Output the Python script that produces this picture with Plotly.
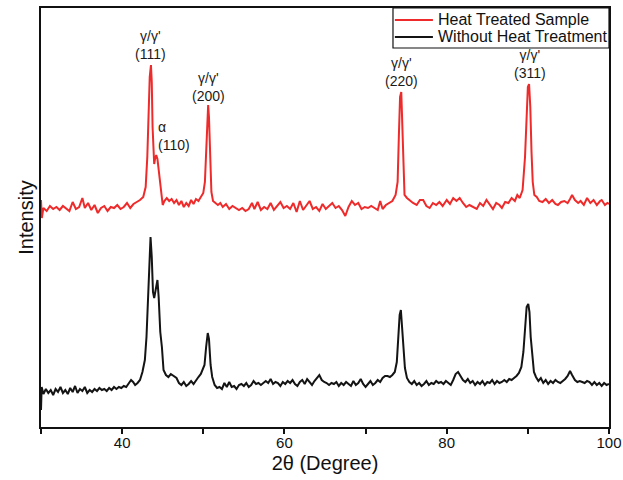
import plotly.graph_objects as go

# ---- Data (2theta in degrees, intensity in arbitrary units) ----
heat_x = [30.0, 30.1, 30.3, 30.7, 31.1, 31.5, 31.9, 32.3, 32.7, 33.1, 33.5, 33.9, 34.3, 34.7, 35.1, 35.4,
          35.8, 36.2, 36.6, 37.0, 37.4, 37.8, 38.2, 38.6, 39.0, 39.4, 39.8, 40.2, 40.6, 41.0, 41.4, 41.8,
          42.2, 42.6, 42.9, 43.1, 43.25, 43.4, 43.55, 43.65, 43.75, 43.85, 43.95, 44.05, 44.2, 44.35, 44.6,
          44.8, 45.0, 45.2, 45.5, 45.8, 46.1, 46.4, 46.7, 47.0, 47.3, 47.6, 47.9, 48.2, 48.5, 48.8, 49.1,
          49.4, 49.7, 50.0, 50.2, 50.35, 50.5, 50.6, 50.7, 50.85, 51.0, 51.2, 51.5, 51.8, 52.1, 52.4, 52.8,
          53.2, 53.6, 54.0, 54.4, 54.8, 55.2, 55.6, 56.0, 56.3, 56.7, 57.1, 57.5, 57.9, 58.3, 58.7, 59.1,
          59.5, 59.9, 60.3, 60.7, 61.1, 61.5, 61.9, 62.3, 62.7, 63.1, 63.5, 63.9, 64.3, 64.7, 65.1, 65.5,
          65.9, 66.3, 66.7, 67.1, 67.5, 67.9, 68.3, 68.7, 69.1, 69.5, 69.9, 70.3, 70.7, 71.1, 71.5, 71.8,
          72.1, 72.5, 72.9, 73.3, 73.7, 73.95, 74.1, 74.25, 74.4, 74.5, 74.65, 74.8, 75.1, 75.5, 75.85,
          76.3, 76.7, 77.1, 77.5, 77.9, 78.3, 78.7, 79.1, 79.5, 80.0, 80.4, 80.8, 81.2, 81.6, 82.0, 82.4,
          82.8, 83.3, 83.7, 84.1, 84.5, 84.9, 85.3, 85.7, 86.1, 86.5, 86.8, 87.2, 87.6, 88.0, 88.4, 88.7,
          89.0, 89.35, 89.65, 89.85, 90.0, 90.15, 90.3, 90.45, 90.6, 90.8, 91.1, 91.4, 91.8, 92.2, 92.6,
          93.0, 93.4, 93.7, 94.1, 94.5, 94.9, 95.2, 95.45, 95.8, 96.2, 96.5, 96.9, 97.3, 97.7, 98.1, 98.5,
          98.9, 99.1, 99.5, 99.8, 100.0]
heat_y = [227, 209, 219, 216, 221, 218, 220, 217, 221, 218, 216, 225, 218, 220, 229, 219,
          224, 217, 222, 214, 219, 221, 216, 220, 219, 222, 218, 220, 224, 219, 223, 225,
          227, 230, 240, 270, 320, 350, 362, 345, 300, 275, 263, 268, 272, 268, 250,
          232, 222, 226, 229, 226, 228, 224, 227, 222, 226, 220, 224, 221, 227, 223, 228,
          226, 230, 234, 245, 280, 315, 322, 310, 270, 235, 226, 224, 222, 224, 220, 223,
          218, 221, 219, 217, 219, 216, 218, 224, 218, 225, 217, 220, 218, 224, 217, 221,
          225, 219, 221, 218, 224, 215, 226, 217, 221, 226, 218, 220, 216, 223, 218, 221,
          224, 219, 221, 217, 211, 220, 226, 222, 224, 218, 220, 219, 221, 219, 217, 226,
          218, 222, 224, 226, 232, 245, 290, 330, 335, 310, 260, 232, 229, 226, 224,
          222, 227, 227, 221, 219, 224, 222, 225, 221, 227, 223, 229, 226, 229, 224, 220,
          222, 220, 218, 224, 221, 227, 223, 218, 224, 222, 219, 225, 224, 229, 226, 232,
          229, 237, 270, 320, 340, 343, 320, 275, 245, 232, 230, 226, 225, 228, 224,
          227, 223, 222, 225, 226, 224, 228, 232, 227, 224, 226, 222, 229, 224, 227, 222,
          226, 227, 222, 224, 223]

plain_x = [30.0, 30.08, 30.3, 30.6, 30.9, 31.2, 31.5, 31.8, 32.1, 32.4, 32.7, 33.0, 33.3, 33.6, 33.9,
           34.2, 34.5, 34.8, 35.1, 35.4, 35.7, 36.0, 36.3, 36.6, 36.9, 37.2, 37.5, 37.8, 38.1, 38.4,
           38.7, 39.0, 39.3, 39.6, 39.9, 40.2, 40.5, 40.8, 41.1, 41.35, 41.6, 41.9, 42.2, 42.5, 42.8,
           43.0, 43.2, 43.35, 43.5, 43.65, 43.8, 43.95, 44.15, 44.35, 44.5, 44.7, 44.9, 45.1, 45.4,
           45.7, 46.0, 46.3, 46.7, 47.0, 47.3, 47.6, 47.9, 48.2, 48.5, 48.8, 49.1, 49.4, 49.7, 49.95,
           50.15, 50.35, 50.55, 50.7, 50.9, 51.1, 51.4, 51.7, 52.0, 52.3, 52.6, 52.9, 53.2, 53.5, 53.8,
           54.1, 54.4, 54.7, 55.0, 55.3, 55.6, 55.9, 56.2, 56.5, 56.8, 57.1, 57.4, 57.7, 58.0, 58.3,
           58.6, 58.9, 59.2, 59.5, 59.8, 60.1, 60.4, 60.7, 61.0, 61.3, 61.6, 61.9, 62.2, 62.5, 62.8,
           63.1, 63.4, 63.7, 64.0, 64.3, 64.6, 64.9, 65.2, 65.5, 65.8, 66.1, 66.4, 66.7, 67.0, 67.3,
           67.6, 67.9, 68.2, 68.5, 68.8, 69.1, 69.4, 69.7, 70.0, 70.3, 70.6, 70.9, 71.2, 71.5, 71.8,
           72.1, 72.4, 72.7, 73.0, 73.3, 73.6, 73.85, 74.0, 74.2, 74.35, 74.5, 74.65, 74.85, 75.1, 75.4,
           75.7, 76.0, 76.3, 76.6, 76.9, 77.2, 77.5, 77.8, 78.1, 78.4, 78.7, 79.0, 79.3, 79.6, 79.9,
           80.2, 80.5, 80.8, 81.1, 81.4, 81.7, 82.0, 82.3, 82.6, 82.9, 83.2, 83.5, 83.8, 84.1, 84.4,
           84.7, 85.0, 85.3, 85.6, 85.9, 86.2, 86.5, 86.8, 87.1, 87.4, 87.7, 88.0, 88.3, 88.6, 88.9,
           89.2, 89.45, 89.65, 89.85, 90.05, 90.2, 90.35, 90.55, 90.75, 91.0, 91.3, 91.6, 91.9, 92.2,
           92.5, 92.8, 93.1, 93.4, 93.7, 94.0, 94.3, 94.6, 94.9, 95.2, 95.45, 95.8, 96.1, 96.4, 96.7,
           97.0, 97.3, 97.6, 97.9, 98.2, 98.5, 98.8, 99.1, 99.4, 99.7, 100.0]
plain_y = [17, 40, 33, 38, 34, 37, 32, 38, 35, 40, 34, 37, 33, 39, 35,
           41, 34, 38, 36, 40, 34, 37, 35, 38, 36, 39, 37, 38, 36, 39,
           37, 40, 38, 40, 39, 41, 40, 43, 47, 45, 42, 44, 47, 55, 67,
           90, 127, 170, 190, 170, 135, 129, 140, 147, 130, 95, 80, 57, 52,
           50, 53, 51, 49, 44, 42, 45, 41, 43, 46, 43, 47, 50, 53, 58,
           62, 80, 94, 88, 62, 50, 42, 39, 40, 38, 44, 40, 45, 40, 41,
           38, 42, 43, 41, 44, 40, 42, 46, 43, 44, 42, 44, 46, 44, 48,
           43, 45, 44, 41, 45, 43, 46, 44, 47, 43, 41, 45, 47, 43, 48,
           45, 42, 46, 49, 52, 47, 45, 44, 42, 44, 43, 45, 41, 44, 42,
           45, 43, 41, 46, 42, 44, 48, 43, 40, 43, 46, 42, 44, 47, 45,
           49, 51, 51, 50, 52, 55, 65, 85, 112, 117, 100, 80, 59, 49, 45,
           43, 46, 42, 44, 41, 43, 46, 42, 44, 43, 46, 44, 45, 43, 46,
           44, 42, 47, 53, 55, 51, 47, 45, 48, 44, 46, 42, 45, 43, 46,
           42, 45, 44, 47, 43, 46, 44, 45, 47, 45, 48, 47, 49, 51, 54,
           60, 75, 100, 120, 123, 115, 90, 70, 55, 50, 46, 49, 44, 47,
           43, 46, 44, 47, 45, 44, 46, 48, 51, 56, 52, 47, 45, 46, 45,
           44, 46, 45, 42, 45, 42, 44, 41, 44, 42, 43]

series_names = ["Heat Treated Sample", "Without Heat Treatment"]
series_colors = ["#ee2a2a", "#141414"]

# Peak labels
peak_text = ["γ/γ'<br>(111)", "γ/γ'<br>(200)", "γ/γ'<br>(220)", "γ/γ'<br>(311)"]
peak_x = [43.55, 50.65, 74.45, 90.27]
peak_y = [363, 321, 336, 344]
alpha_text = "α<br>(110)"
alpha_x = 44.17
alpha_y = 272

x_tickvals = [30, 40, 50, 60, 70, 80, 90, 100]
x_ticktext = ["", "40", "", "60", "", "80", "", "100"]

FONT = "Arial, Liberation Sans, sans-serif"

fig = go.Figure()
fig.add_trace(go.Scatter(x=heat_x, y=heat_y, mode="lines", name=series_names[0],
                         line=dict(color=series_colors[0], width=2), showlegend=False))
fig.add_trace(go.Scatter(x=plain_x, y=plain_y, mode="lines", name=series_names[1],
                         line=dict(color=series_colors[1], width=2), showlegend=False))

for t, xv, yv in zip(peak_text, peak_x, peak_y):
    fig.add_annotation(x=xv, y=yv, text=t, showarrow=False, xanchor="center", yanchor="bottom",
                       font=dict(size=14, color="#1a1a1a", family=FONT))
fig.add_annotation(x=alpha_x, y=alpha_y, text=alpha_text, showarrow=False, xanchor="left",
                   yanchor="bottom", align="left", font=dict(size=14, color="#1a1a1a", family=FONT))

# Compact legend box (top-right, inside the frame)
leg_x0, leg_x1 = 0.6197, 1.0
leg_y0, leg_y1 = 0.9045, 1.0
leg_rows = [0.9714, 0.9308]
fig.add_shape(type="rect", xref="paper", yref="paper", x0=leg_x0, x1=leg_x1, y0=leg_y0, y1=leg_y1,
              line=dict(color="#111", width=1.2), fillcolor="white", layer="above")
for name, col, ry in zip(series_names, series_colors, leg_rows):
    fig.add_shape(type="line", xref="paper", yref="paper", x0=0.623, x1=0.690, y0=ry, y1=ry,
                  line=dict(color=col, width=2), layer="above")
    fig.add_annotation(xref="paper", yref="paper", x=0.696, y=ry, text=name, showarrow=False,
                       xanchor="left", yanchor="middle", font=dict(size=16, color="#111", family=FONT))

fig.update_layout(
    width=623, height=480,
    margin=dict(l=41, r=14, t=8, b=53, autoexpand=False),
    paper_bgcolor="white", plot_bgcolor="white",
    font=dict(family=FONT, color="#111"),
    showlegend=False,
    xaxis=dict(range=[30, 100], showgrid=False, zeroline=False, showline=True, linecolor="#111",
               linewidth=1.5, mirror=True, ticks="outside", ticklen=5, tickwidth=1.5, tickcolor="#111",
               tickvals=x_tickvals, ticktext=x_ticktext, tickfont=dict(size=15, family=FONT),
               ticklabelstandoff=-4, automargin=False,
               title=dict(text="2θ (Degree)", font=dict(size=20, family=FONT), standoff=6)),
    yaxis=dict(range=[0, 419], showgrid=False, zeroline=False, showline=True, linecolor="#111",
               linewidth=1.5, mirror=True, ticks="", showticklabels=False, automargin=False,
               title=dict(text="Intensity", font=dict(size=20, family=FONT), standoff=0)),
)

fig.write_html("out.html")
